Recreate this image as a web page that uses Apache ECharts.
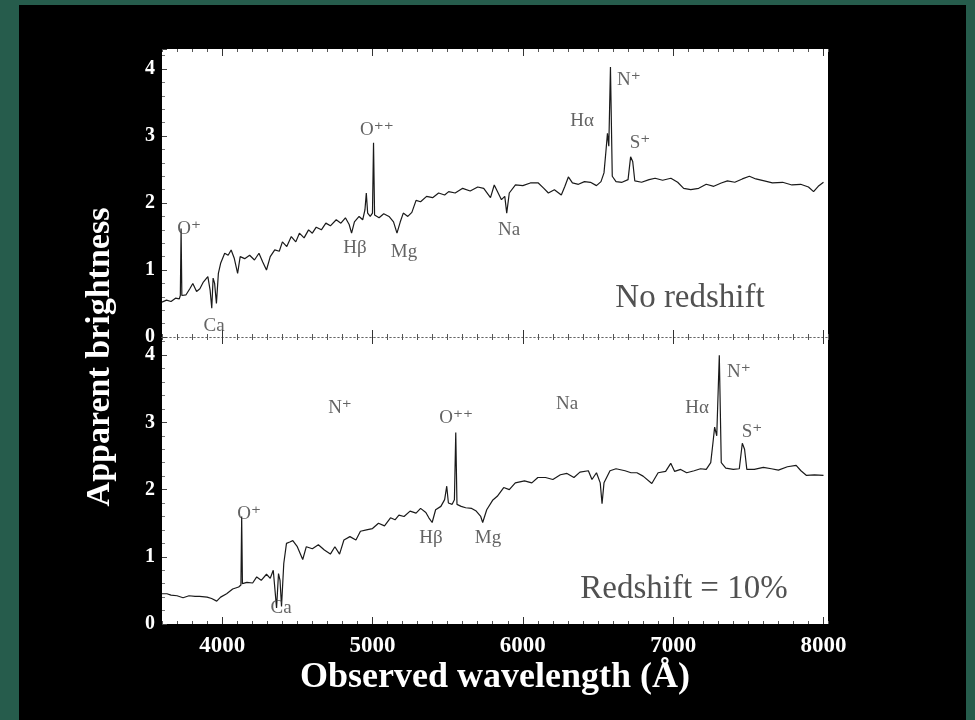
<!DOCTYPE html>
<html>
<head>
<meta charset="utf-8">
<title>Galaxy spectrum redshift</title>
<script src="https://cdn.jsdelivr.net/npm/echarts@6.0.0/dist/echarts.min.js"></script>
<style>
  html,body{margin:0;padding:0;background:#265c4c;width:975px;height:720px;overflow:hidden;}
  #chart{position:absolute;left:19px;top:5px;width:947px;height:715px;background:#000;}
</style>
</head>
<body>
<div id="chart"></div>
<script>
  // spectrum at rest (upper panel), wavelength in Å
  const REST_WAVE = [3600,3630,3660,3690,3715,3722,3727,3732,3760,3785,3805,3830,3852,3875,3905,3920,3931,3940,3950,3962,3975,3990,4017,4040,4060,4080,4103,4120,4150,4183,4215,4245,4270,4295,4320,4350,4380,4401,4430,4460,4490,4514,4545,4575,4600,4626,4660,4690,4720,4759,4790,4820,4845,4861,4880,4911,4935,4950,4959,4968,4985,5000,5007,5014,5044,5075,5110,5140,5163,5185,5205,5235,5262,5290,5320,5360,5400,5440,5480,5507,5550,5600,5650,5700,5740,5785,5810,5858,5880,5893,5910,5951,6000,6050,6103,6140,6170,6210,6256,6280,6303,6330,6370,6410,6450,6490,6520,6540,6552,6563,6572,6583,6595,6620,6660,6700,6717,6731,6745,6790,6840,6880,6930,6985,7030,7070,7117,7170,7220,7270,7320,7361,7410,7460,7507,7550,7606,7660,7728,7790,7848,7900,7934,7965,8000];
  const REST_FLUX = [0.52,0.55,0.53,0.58,0.57,0.62,1.62,0.62,0.63,0.72,0.80,0.68,0.72,0.82,0.90,0.70,0.43,0.88,0.80,0.50,0.95,1.10,1.25,1.22,1.30,1.18,0.95,1.20,1.17,1.22,1.15,1.25,1.12,1.00,1.20,1.30,1.28,1.42,1.35,1.50,1.42,1.55,1.48,1.60,1.55,1.64,1.60,1.70,1.66,1.75,1.70,1.78,1.68,1.55,1.72,1.80,1.75,1.90,2.15,1.85,1.80,1.85,2.90,1.82,1.78,1.84,1.80,1.72,1.55,1.72,1.85,1.80,1.86,2.04,2.02,2.10,2.08,2.15,2.12,2.17,2.15,2.22,2.18,2.24,2.22,2.08,2.27,2.05,2.10,1.85,2.15,2.27,2.26,2.30,2.30,2.22,2.15,2.20,2.12,2.25,2.39,2.30,2.28,2.32,2.31,2.26,2.32,2.45,2.75,3.04,2.85,4.03,2.40,2.32,2.31,2.35,2.69,2.62,2.33,2.31,2.35,2.37,2.34,2.37,2.31,2.22,2.20,2.22,2.28,2.25,2.30,2.33,2.31,2.36,2.40,2.36,2.33,2.30,2.31,2.27,2.28,2.24,2.17,2.25,2.31];

  // same galaxy, shifted (lower panel)
  const OBS_WAVE = [3600,3633,3660,3700,3740,3780,3820,3850,3900,3930,3964,3990,4030,4070,4110,4125,4130,4135,4165,4203,4230,4260,4295,4320,4340,4362,4375,4385,4395,4410,4428,4450,4470,4500,4536,4560,4600,4640,4680,4720,4750,4781,4810,4850,4890,4920,4960,5000,5040,5080,5120,5150,5176,5210,5250,5290,5320,5355,5375,5397,5420,5455,5480,5494,5505,5530,5545,5554,5562,5590,5620,5660,5690,5720,5733,5760,5799,5830,5873,5910,5950,6011,6060,6100,6151,6200,6250,6294,6340,6380,6436,6460,6490,6515,6527,6540,6580,6620,6680,6720,6759,6800,6858,6900,6950,6984,7010,7050,7090,7140,7182,7220,7250,7265,7276,7290,7307,7320,7350,7400,7440,7460,7475,7490,7540,7600,7653,7700,7760,7818,7850,7887,7940,8000];
  const OBS_FLUX = [0.45,0.45,0.43,0.42,0.39,0.42,0.41,0.41,0.40,0.38,0.34,0.40,0.45,0.52,0.55,0.58,1.60,0.60,0.62,0.61,0.70,0.65,0.74,0.68,0.80,0.24,0.75,0.65,0.26,0.90,1.20,1.22,1.24,1.15,0.96,1.15,1.12,1.18,1.10,1.04,1.15,1.04,1.25,1.30,1.25,1.38,1.40,1.42,1.50,1.46,1.58,1.55,1.62,1.60,1.68,1.65,1.72,1.66,1.58,1.51,1.70,1.75,1.85,2.05,1.80,1.78,1.85,2.85,1.78,1.75,1.73,1.72,1.68,1.60,1.51,1.70,1.84,1.90,2.03,2.00,2.10,2.13,2.10,2.18,2.18,2.15,2.22,2.24,2.18,2.26,2.28,2.15,2.25,2.10,1.79,2.10,2.28,2.31,2.28,2.25,2.25,2.20,2.09,2.25,2.27,2.39,2.27,2.30,2.25,2.28,2.31,2.30,2.40,2.70,2.93,2.80,4.00,2.40,2.32,2.30,2.31,2.69,2.60,2.30,2.30,2.33,2.31,2.29,2.34,2.36,2.28,2.21,2.22,2.21];

  const X_TICKS = [4000,5000,6000,7000,8000];
  const Y_TICKS = [0,1,2,3,4];

  // line identifications, [wavelength, brightness] where the label sits
  const TOP_LINE_NAMES = ['O⁺','Ca','Hβ','O⁺⁺','Mg','Na','Hα','N⁺','S⁺'];
  const TOP_LINE_AT = [[3780,1.61],[3946,0.16],[4884,1.33],[5030,3.09],[5210,1.27],[5908,1.60],[6394,3.22],[6706,3.84],[6779,2.90]];
  const BOTTOM_LINE_NAMES = ['O⁺','Ca','N⁺','O⁺⁺','Na','Hβ','Mg','Hα','N⁺','S⁺'];
  const BOTTOM_LINE_AT = [[4179,1.63],[4392,0.24],[4784,3.22],[5556,3.06],[6294,3.27],[5389,1.28],[5768,1.28],[7159,3.22],[7438,3.75],[7524,2.85]];
  const PANEL_NOTES = ['No redshift','Redshift = 10%'];
  const PANEL_NOTE_AT = [[7112,0.57],[7072,0.52]];

  const SERIF = '"Liberation Serif", "DejaVu Serif", serif';
  const X_MIN = 3600, X_MAX = 8030;

  const toPairs = (xs, ys)=>xs.map((x,i)=>[x, ys[i]]);

  const chart = echarts.init(document.getElementById('chart'));

  const grids = [
    {left:143, top:44, width:666, height:288, show:true, backgroundColor:'#fff', borderWidth:0},
    {left:143, top:332, width:666, height:287, show:true, backgroundColor:'#fff', borderWidth:0},
    // overlays, only carry the longer ticks at each 1000 Å
    {left:143, top:44, width:666, height:288},
    {left:143, top:332, width:666, height:287}
  ];

  function xEdge(grid, position, opts){
    const o = opts || {};
    return {
      type:'value', gridIndex:grid, position:position,
      min:X_MIN, max:X_MAX, interval:o.major?undefined:100,
      axisLine:{show:!!o.dotted, lineStyle:{color:'#666', type:[1,3], width:1}},
      axisTick:o.major
        ? {show:true, inside:true, length:7, customValues:X_TICKS, lineStyle:{color:'#333', width:1}}
        : {show:true, inside:true, length:3, lineStyle:{color:'#555', width:1}},
      axisLabel:o.labels
        ? {show:true, color:'#fff', fontFamily:SERIF, fontWeight:'bold', fontSize:23, margin:11,
           formatter:v=>X_TICKS.includes(v)?String(v):''}
        : {show:false},
      splitLine:{show:false}
    };
  }

  const xAxes = [
    xEdge(0,'bottom',{dotted:true}),          // 0 used by upper spectrum
    xEdge(0,'top'),                            // 1
    xEdge(1,'bottom',{labels:true}),           // 2 used by lower spectrum
    xEdge(1,'top',{dotted:true}),              // 3
    xEdge(2,'bottom',{major:true}),
    xEdge(2,'top',{major:true}),
    xEdge(3,'bottom',{major:true}),
    xEdge(3,'top',{major:true})
  ];

  function yLeft(grid, max){
    return {
      type:'value', gridIndex:grid, min:0, max:max, interval:1,
      axisLine:{show:false},
      axisTick:{show:true, inside:true, length:5, lineStyle:{color:'#444'}},
      minorTick:{show:true, splitNumber:5, length:3, lineStyle:{color:'#777'}},
      axisLabel:{color:'#fff', fontFamily:SERIF, fontWeight:'bold', fontSize:20, margin:7,
                 formatter:v=>Y_TICKS.includes(v)?String(v):''},
      splitLine:{show:false}
    };
  }

  const yAxes = [yLeft(0,4.3), yLeft(1,4.27),
    {gridIndex:2, min:0, max:4.3, show:false},
    {gridIndex:3, min:0, max:4.27, show:false}];

  function labelSeries(names, at, xi, yi, size, color){
    return {
      type:'scatter', xAxisIndex:xi, yAxisIndex:yi, symbolSize:1, silent:true,
      itemStyle:{color:'rgba(0,0,0,0)'},
      label:{show:true, position:'inside', formatter:p=>p.data[2],
             fontFamily:SERIF, fontSize:size, color:color},
      data:at.map((p,i)=>[p[0], p[1], names[i]]),
      z:5
    };
  }

  chart.setOption({
    animation:false,
    grid:grids,
    xAxis:xAxes,
    yAxis:yAxes,
    graphic:[
      {type:'text', x:81, y:352, rotation:Math.PI/2,
       style:{text:'Apparent brightness', fill:'#fff', font:'bold 34px '+SERIF, align:'center', verticalAlign:'middle'}},
      {type:'text', x:476, y:673,
       style:{text:'Observed wavelength (Å)', fill:'#fff', font:'bold 36px '+SERIF, align:'center', verticalAlign:'middle'}}
    ],
    series:[
      {type:'line', xAxisIndex:0, yAxisIndex:0, data:toPairs(REST_WAVE, REST_FLUX),
       showSymbol:false, lineStyle:{color:'#1a1a1a', width:1.2}, silent:true},
      {type:'line', xAxisIndex:2, yAxisIndex:1, data:toPairs(OBS_WAVE, OBS_FLUX),
       showSymbol:false, lineStyle:{color:'#1a1a1a', width:1.2}, silent:true},
      labelSeries(TOP_LINE_NAMES, TOP_LINE_AT, 0, 0, 19, '#3c3c3c'),
      labelSeries(BOTTOM_LINE_NAMES, BOTTOM_LINE_AT, 2, 1, 19, '#3c3c3c'),
      labelSeries(PANEL_NOTES.slice(0,1), PANEL_NOTE_AT.slice(0,1), 0, 0, 33, '#262626'),
      labelSeries(PANEL_NOTES.slice(1), PANEL_NOTE_AT.slice(1), 2, 1, 33, '#262626')
    ]
  });
</script>
</body>
</html>
